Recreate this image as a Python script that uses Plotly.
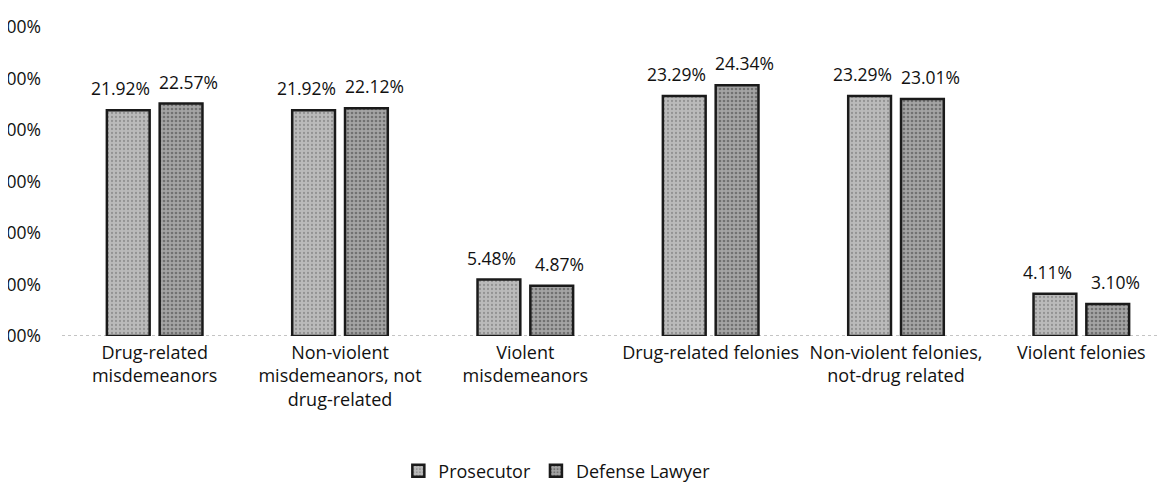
import plotly.graph_objects as go

categories = [
    "Drug-related<br>misdemeanors",
    "Non-violent<br>misdemeanors, not<br>drug-related",
    "Violent<br>misdemeanors",
    "Drug-related felonies",
    "Non-violent felonies,<br>not-drug related",
    "Violent felonies",
]
prosecutor = [21.92, 21.92, 5.48, 23.29, 23.29, 4.11]
defense = [22.57, 22.12, 4.87, 24.34, 23.01, 3.10]
y_ticks = [0, 5, 10, 15, 20, 25, 30]

FONT = "Open Sans, sans-serif"
TXT = "#111111"

fig = go.Figure()
fig.add_trace(go.Bar(
    name="Prosecutor", x=categories, y=prosecutor,
    marker=dict(color="#b4b4b4", line=dict(color="#1a1a1a", width=2.5),
                pattern=dict(shape=".", fgcolor="#6a6a6a", bgcolor="#bababa", size=4, solidity=0.25)),
))
fig.add_trace(go.Bar(
    name="Defense Lawyer", x=categories, y=defense,
    marker=dict(color="#999999", line=dict(color="#1a1a1a", width=2.5),
                pattern=dict(shape=".", fgcolor="#3e3e3e", bgcolor="#a4a4a4", size=4, solidity=0.35)),
))

annotations = []
for cat, v in zip(categories, prosecutor):
    annotations.append(dict(x=cat, y=v, text=f"{v:.2f}%", showarrow=False, xanchor="center",
                            yanchor="bottom", xshift=-34, yshift=8,
                            font=dict(size=17.5, family=FONT, color=TXT)))
for cat, v in zip(categories, defense):
    annotations.append(dict(x=cat, y=v, text=f"{v:.2f}%", showarrow=False, xanchor="center",
                            yanchor="bottom", xshift=34, yshift=8,
                            font=dict(size=17.5, family=FONT, color=TXT)))

fig.update_layout(
    width=1168, height=500,
    margin=dict(l=54, r=2, t=19, b=172, autoexpand=False),
    paper_bgcolor="white", plot_bgcolor="white",
    barmode="group", bargap=0.43, bargroupgap=0.19,
    font=dict(family=FONT, size=18, color=TXT),
    showlegend=True,
    legend=dict(orientation="h", x=0.445, xanchor="center", y=-0.437, yanchor="middle",
                font=dict(size=18, family=FONT, color=TXT)),
    xaxis=dict(showline=False, ticks="", tickfont=dict(size=18, family=FONT, color=TXT),
               ticklabelstandoff=4, automargin=False),
    yaxis=dict(range=[0, 30], tickvals=y_ticks, ticktext=[f"{v:.2f}%" for v in y_ticks],
               showgrid=False, zeroline=False, showline=False, ticks="",
               ticklabelstandoff=20, tickfont=dict(size=17.5, family=FONT, color=TXT),
               automargin=False),
    annotations=annotations,
    shapes=[
        dict(type="line", xref="paper", yref="y", x0=0, x1=1, y0=0, y1=0,
             line=dict(color="#8a8a8a", width=1.2, dash="dot"), layer="below"),
        dict(type="line", xref="paper", yref="paper", x0=1, x1=1, y0=-0.56, y1=1.07,
             line=dict(color="#777777", width=1)),
    ],
)

fig.write_html("out.html")
